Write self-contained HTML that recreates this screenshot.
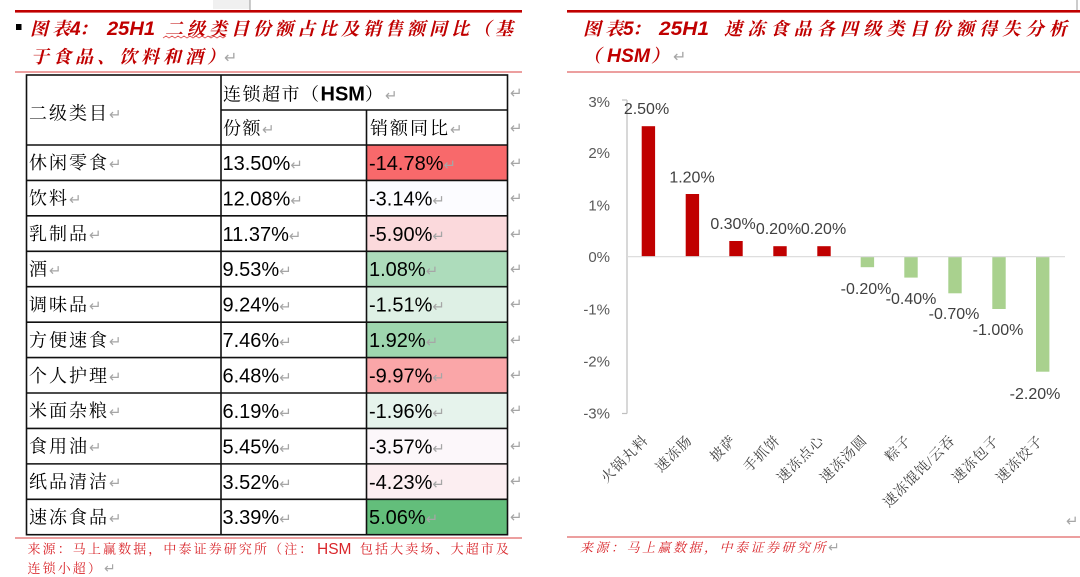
<!DOCTYPE html>
<html>
<head>
<meta charset="utf-8">
<style>
html,body{margin:0;padding:0;background:#fff;}
svg{display:block;}
.cjk{font-family:"Liberation Serif","Noto Serif CJK SC",serif;}
.lat{font-family:"Liberation Sans","Noto Sans CJK SC",sans-serif;}
.arr{font-family:"DejaVu Sans",sans-serif;fill:#a6a6a6;}
</style>
</head>
<body>
<svg width="1080" height="577" viewBox="0 0 1080 577" xmlns="http://www.w3.org/2000/svg">
<rect width="1080" height="577" fill="#fff"/>

<!-- top decorations -->
<rect x="213" y="0" width="37" height="9" fill="#f0f0f0"/>
<line x1="250" y1="0" x2="250" y2="10" stroke="#999" stroke-width="1"/>
<line x1="1077" y1="0" x2="1077" y2="10" stroke="#999" stroke-width="1"/>

<!-- top red lines -->
<rect x="15" y="10" width="507" height="2.6" fill="#c00000"/>
<rect x="567" y="10" width="513" height="2.6" fill="#c00000"/>
<line x1="15" y1="72" x2="522" y2="72" stroke="#e06666" stroke-width="1.2"/>
<line x1="567" y1="72" x2="1080" y2="72" stroke="#e06666" stroke-width="1.2"/>

<!-- LEFT TITLE -->
<rect x="16" y="24" width="5.5" height="6" fill="#000"/>
<g fill="#c00000" font-weight="bold" font-style="italic">
  <text class="cjk" x="30" y="35" font-size="18" letter-spacing="4">图表</text>
  <text class="lat" x="70" y="35" font-size="19">4</text>
  <text class="cjk" x="79" y="35" font-size="18">：</text>
  <text class="lat" x="107" y="35" font-size="19" textLength="48" lengthAdjust="spacingAndGlyphs">25H1</text>
  <text class="cjk" x="165" y="35" font-size="18" letter-spacing="4">二级类目份额占比及销售额同比（基</text>
  <text class="cjk" x="31" y="63" font-size="18" letter-spacing="4">于食品、饮料和酒）</text>
</g>
<text class="arr" x="224" y="63" font-size="16">↵</text>
<path d="M163 38 l3 -2 l3 2 l3 -2 l3 2 l3 -2 l3 2 l3 -2 l3 2 l3 -2 l3 2 l3 -2 l3 2 l3 -2 l3 2 l3 -2 l3 2 l3 -2 l3 2 l3 -2 l3 2 l3 -2" fill="none" stroke="#e05050" stroke-width="0.8"/>

<!-- RIGHT TITLE -->
<g fill="#c00000" font-weight="bold" font-style="italic">
  <text class="cjk" x="583" y="35" font-size="18" letter-spacing="4">图表</text>
  <text class="lat" x="623" y="35" font-size="19">5</text>
  <text class="cjk" x="632" y="35" font-size="18">：</text>
  <text class="lat" x="659" y="35" font-size="19" textLength="50" lengthAdjust="spacingAndGlyphs">25H1</text>
  <text class="cjk" x="724" y="35" font-size="18" letter-spacing="5.2">速冻食品各四级类目份额得失分析</text>
  <text class="cjk" x="583" y="62" font-size="18">（</text>
  <text class="lat" x="607" y="62" font-size="19" textLength="43" lengthAdjust="spacingAndGlyphs">HSM</text>
  <text class="cjk" x="651" y="62" font-size="18">）</text>
</g>
<text class="arr" x="673" y="62" font-size="16">↵</text>

<!-- TABLE fills -->
<rect x="366.5" y="145" width="141" height="35.43" fill="#F8696B"/>
<rect x="366.5" y="180.43" width="141" height="35.43" fill="#FCFCFF"/>
<rect x="366.5" y="215.86" width="141" height="35.43" fill="#FBD9DC"/>
<rect x="366.5" y="251.29" width="141" height="35.43" fill="#ADDCBB"/>
<rect x="366.5" y="286.72" width="141" height="35.43" fill="#DEF0E5"/>
<rect x="366.5" y="322.15" width="141" height="35.43" fill="#9ED6AE"/>
<rect x="366.5" y="357.58" width="141" height="35.43" fill="#FAA6A8"/>
<rect x="366.5" y="393.01" width="141" height="35.43" fill="#E6F3EC"/>
<rect x="366.5" y="428.44" width="141" height="35.43" fill="#FCF7FA"/>
<rect x="366.5" y="463.87" width="141" height="35.43" fill="#FCEEF1"/>
<rect x="366.5" y="499.3" width="141" height="35.43" fill="#63BE7B"/>

<!-- TABLE borders -->
<g stroke="#111" stroke-width="1.6" fill="none">
  <rect x="26.5" y="75" width="481" height="459.7"/>
  <line x1="221" y1="75" x2="221" y2="534.7"/>
  <line x1="366.5" y1="110" x2="366.5" y2="534.7"/>
  <line x1="221" y1="110" x2="507.5" y2="110"/>
  <line x1="26.5" y1="145" x2="507.5" y2="145"/>
  <line x1="26.5" y1="180.43" x2="507.5" y2="180.43"/>
  <line x1="26.5" y1="215.86" x2="507.5" y2="215.86"/>
  <line x1="26.5" y1="251.29" x2="507.5" y2="251.29"/>
  <line x1="26.5" y1="286.72" x2="507.5" y2="286.72"/>
  <line x1="26.5" y1="322.15" x2="507.5" y2="322.15"/>
  <line x1="26.5" y1="357.58" x2="507.5" y2="357.58"/>
  <line x1="26.5" y1="393.01" x2="507.5" y2="393.01"/>
  <line x1="26.5" y1="428.44" x2="507.5" y2="428.44"/>
  <line x1="26.5" y1="463.87" x2="507.5" y2="463.87"/>
  <line x1="26.5" y1="499.3" x2="507.5" y2="499.3"/>
</g>

<!-- TABLE header text -->
<g fill="#000">
  <text x="29" y="119.5"><tspan class="cjk" font-size="18" letter-spacing="2">二级类目</tspan><tspan class="arr" font-size="15">↵</tspan></text>
  <text x="223" y="100.5"><tspan class="cjk" font-size="18" letter-spacing="1.5">连锁超市（</tspan><tspan class="lat" font-size="20" font-weight="bold">HSM</tspan><tspan class="cjk" font-size="18">）</tspan><tspan class="arr" font-size="15" dx="2">↵</tspan></text>
  <text x="223" y="134.5"><tspan class="cjk" font-size="18" letter-spacing="1.5">份额</tspan><tspan class="arr" font-size="15">↵</tspan></text>
  <text x="370" y="134.5"><tspan class="cjk" font-size="18" letter-spacing="2">销额同比</tspan><tspan class="arr" font-size="15">↵</tspan></text>
</g>

<!-- TABLE data text -->
<g fill="#000">
  <text x="29" y="169.2"><tspan class="cjk" font-size="18" letter-spacing="2">休闲零食</tspan><tspan class="arr" font-size="15">↵</tspan></text>
  <text x="222.5" y="169.9"><tspan class="lat" font-size="20">13.50%</tspan><tspan class="arr" font-size="15">↵</tspan></text>
  <text x="369" y="169.9"><tspan class="lat" font-size="20">-14.78%</tspan><tspan class="arr" font-size="15">↵</tspan></text>

  <text x="29" y="204.6"><tspan class="cjk" font-size="18" letter-spacing="2">饮料</tspan><tspan class="arr" font-size="15">↵</tspan></text>
  <text x="222.5" y="205.3"><tspan class="lat" font-size="20">12.08%</tspan><tspan class="arr" font-size="15">↵</tspan></text>
  <text x="369" y="205.3"><tspan class="lat" font-size="20">-3.14%</tspan><tspan class="arr" font-size="15">↵</tspan></text>

  <text x="29" y="240.1"><tspan class="cjk" font-size="18" letter-spacing="2">乳制品</tspan><tspan class="arr" font-size="15">↵</tspan></text>
  <text x="222.5" y="240.8"><tspan class="lat" font-size="20">11.37%</tspan><tspan class="arr" font-size="15">↵</tspan></text>
  <text x="369" y="240.8"><tspan class="lat" font-size="20">-5.90%</tspan><tspan class="arr" font-size="15">↵</tspan></text>

  <text x="29" y="275.5"><tspan class="cjk" font-size="18" letter-spacing="2">酒</tspan><tspan class="arr" font-size="15">↵</tspan></text>
  <text x="222.5" y="276.2"><tspan class="lat" font-size="20">9.53%</tspan><tspan class="arr" font-size="15">↵</tspan></text>
  <text x="369" y="276.2"><tspan class="lat" font-size="20">1.08%</tspan><tspan class="arr" font-size="15">↵</tspan></text>

  <text x="29" y="310.9"><tspan class="cjk" font-size="18" letter-spacing="2">调味品</tspan><tspan class="arr" font-size="15">↵</tspan></text>
  <text x="222.5" y="311.6"><tspan class="lat" font-size="20">9.24%</tspan><tspan class="arr" font-size="15">↵</tspan></text>
  <text x="369" y="311.6"><tspan class="lat" font-size="20">-1.51%</tspan><tspan class="arr" font-size="15">↵</tspan></text>

  <text x="29" y="346.4"><tspan class="cjk" font-size="18" letter-spacing="2">方便速食</tspan><tspan class="arr" font-size="15">↵</tspan></text>
  <text x="222.5" y="347.1"><tspan class="lat" font-size="20">7.46%</tspan><tspan class="arr" font-size="15">↵</tspan></text>
  <text x="369" y="347.1"><tspan class="lat" font-size="20">1.92%</tspan><tspan class="arr" font-size="15">↵</tspan></text>

  <text x="29" y="381.8"><tspan class="cjk" font-size="18" letter-spacing="2">个人护理</tspan><tspan class="arr" font-size="15">↵</tspan></text>
  <text x="222.5" y="382.5"><tspan class="lat" font-size="20">6.48%</tspan><tspan class="arr" font-size="15">↵</tspan></text>
  <text x="369" y="382.5"><tspan class="lat" font-size="20">-9.97%</tspan><tspan class="arr" font-size="15">↵</tspan></text>

  <text x="29" y="417.2"><tspan class="cjk" font-size="18" letter-spacing="2">米面杂粮</tspan><tspan class="arr" font-size="15">↵</tspan></text>
  <text x="222.5" y="417.9"><tspan class="lat" font-size="20">6.19%</tspan><tspan class="arr" font-size="15">↵</tspan></text>
  <text x="369" y="417.9"><tspan class="lat" font-size="20">-1.96%</tspan><tspan class="arr" font-size="15">↵</tspan></text>

  <text x="29" y="452.6"><tspan class="cjk" font-size="18" letter-spacing="2">食用油</tspan><tspan class="arr" font-size="15">↵</tspan></text>
  <text x="222.5" y="453.3"><tspan class="lat" font-size="20">5.45%</tspan><tspan class="arr" font-size="15">↵</tspan></text>
  <text x="369" y="453.3"><tspan class="lat" font-size="20">-3.57%</tspan><tspan class="arr" font-size="15">↵</tspan></text>

  <text x="29" y="488.1"><tspan class="cjk" font-size="18" letter-spacing="2">纸品清洁</tspan><tspan class="arr" font-size="15">↵</tspan></text>
  <text x="222.5" y="488.8"><tspan class="lat" font-size="20">3.52%</tspan><tspan class="arr" font-size="15">↵</tspan></text>
  <text x="369" y="488.8"><tspan class="lat" font-size="20">-4.23%</tspan><tspan class="arr" font-size="15">↵</tspan></text>

  <text x="29" y="523.5"><tspan class="cjk" font-size="18" letter-spacing="2">速冻食品</tspan><tspan class="arr" font-size="15">↵</tspan></text>
  <text x="222.5" y="524.2"><tspan class="lat" font-size="20">3.39%</tspan><tspan class="arr" font-size="15">↵</tspan></text>
  <text x="369" y="524.2"><tspan class="lat" font-size="20">5.06%</tspan><tspan class="arr" font-size="15">↵</tspan></text>
</g>

<!-- row-end marks outside table -->
<g class="arr" font-size="15">
  <text x="510" y="98">↵</text>
  <text x="510" y="133">↵</text>
  <text x="510" y="168">↵</text>
  <text x="510" y="203">↵</text>
  <text x="510" y="239">↵</text>
  <text x="510" y="274">↵</text>
  <text x="510" y="309">↵</text>
  <text x="510" y="345">↵</text>
  <text x="510" y="380">↵</text>
  <text x="510" y="415">↵</text>
  <text x="510" y="451">↵</text>
  <text x="510" y="486">↵</text>
  <text x="510" y="522">↵</text>
</g>

<!-- LEFT SOURCE -->
<line x1="15" y1="538" x2="522" y2="538" stroke="#e06666" stroke-width="1.2"/>
<g fill="#d9262b">
  <text class="cjk" x="27.5" y="553.5" font-size="13" letter-spacing="2.1">来源：马上赢数据，中泰证券研究所（注：</text>
  <text class="lat" x="317" y="554" font-size="15.5">HSM</text>
  <text class="cjk" x="360" y="553.5" font-size="13" letter-spacing="2.1">包括大卖场、大超市及</text>
  <text class="cjk" x="27.5" y="573" font-size="13" letter-spacing="2.1">连锁小超）</text>
</g>
<text class="arr" x="104" y="573" font-size="14">↵</text>

<!-- RIGHT CHART -->
<g class="lat" font-size="15" fill="#595959" text-anchor="end">
  <text x="610" y="107">3%</text>
  <text x="610" y="158">2%</text>
  <text x="610" y="210.5">1%</text>
  <text x="610" y="262">0%</text>
  <text x="610" y="314.5">-1%</text>
  <text x="610" y="366.5">-2%</text>
  <text x="610" y="418.5">-3%</text>
</g>
<line x1="627" y1="100" x2="627" y2="413.5" stroke="#bfbfbf" stroke-width="1.2"/>
<line x1="622" y1="100" x2="627" y2="100" stroke="#bfbfbf" stroke-width="1.2"/>
<line x1="622" y1="413.5" x2="627" y2="413.5" stroke="#bfbfbf" stroke-width="1.2"/>

<g fill="#c00000">
  <rect x="641.7" y="126.2" width="13.4" height="130.5"/>
  <rect x="685.7" y="194" width="13.4" height="62.7"/>
  <rect x="729.3" y="241" width="13.4" height="15.7"/>
  <rect x="773.3" y="246.2" width="13.4" height="10.5"/>
  <rect x="817.3" y="246.2" width="13.4" height="10.5"/>
</g>
<g fill="#a9d18e">
  <rect x="860.7" y="256.7" width="13.4" height="10.5"/>
  <rect x="904.3" y="256.7" width="13.4" height="20.9"/>
  <rect x="948.3" y="256.7" width="13.4" height="36.6"/>
  <rect x="992.3" y="256.7" width="13.4" height="52.3"/>
  <rect x="1036" y="256.7" width="13.4" height="115"/>
</g>
<line x1="627" y1="256.7" x2="1065" y2="256.7" stroke="#d9d9d9" stroke-width="1.2"/>

<g class="lat" font-size="16" fill="#404040" text-anchor="middle">
  <text x="646.5" y="113.8">2.50%</text>
  <text x="692" y="182.5">1.20%</text>
  <text x="733" y="229">0.30%</text>
  <text x="778.5" y="234">0.20%</text>
  <text x="823.5" y="234">0.20%</text>
  <text x="866" y="294">-0.20%</text>
  <text x="911" y="304">-0.40%</text>
  <text x="954" y="319">-0.70%</text>
  <text x="998" y="334.8">-1.00%</text>
  <text x="1035" y="398.8">-2.20%</text>
</g>

<g class="cjk" font-size="14" fill="#404040" text-anchor="end" letter-spacing="1">
  <text x="649" y="441" transform="rotate(-45 649 441)">火锅丸料</text>
  <text x="693" y="441" transform="rotate(-45 693 441)">速冻肠</text>
  <text x="737" y="441" transform="rotate(-45 737 441)">披萨</text>
  <text x="781" y="441" transform="rotate(-45 781 441)">手抓饼</text>
  <text x="825" y="441" transform="rotate(-45 825 441)">速冻点心</text>
  <text x="868" y="441" transform="rotate(-45 868 441)">速冻汤圆</text>
  <text x="912" y="441" transform="rotate(-45 912 441)">粽子</text>
  <text x="956" y="441" transform="rotate(-45 956 441)">速冻馄饨/云吞</text>
  <text x="1000" y="441" transform="rotate(-45 1000 441)">速冻包子</text>
  <text x="1044" y="441" transform="rotate(-45 1044 441)">速冻饺子</text>
</g>
<text class="arr" x="1066" y="526" font-size="15">↵</text>

<!-- RIGHT SOURCE -->
<line x1="567" y1="537" x2="1080" y2="537" stroke="#e06666" stroke-width="1.2"/>
<text class="cjk" x="580" y="552" font-size="13" letter-spacing="2.5" fill="#d9262b" font-style="italic">来源：马上赢数据，中泰证券研究所</text>
<text class="arr" x="828" y="552" font-size="14">↵</text>
</svg>
</body>
</html>
